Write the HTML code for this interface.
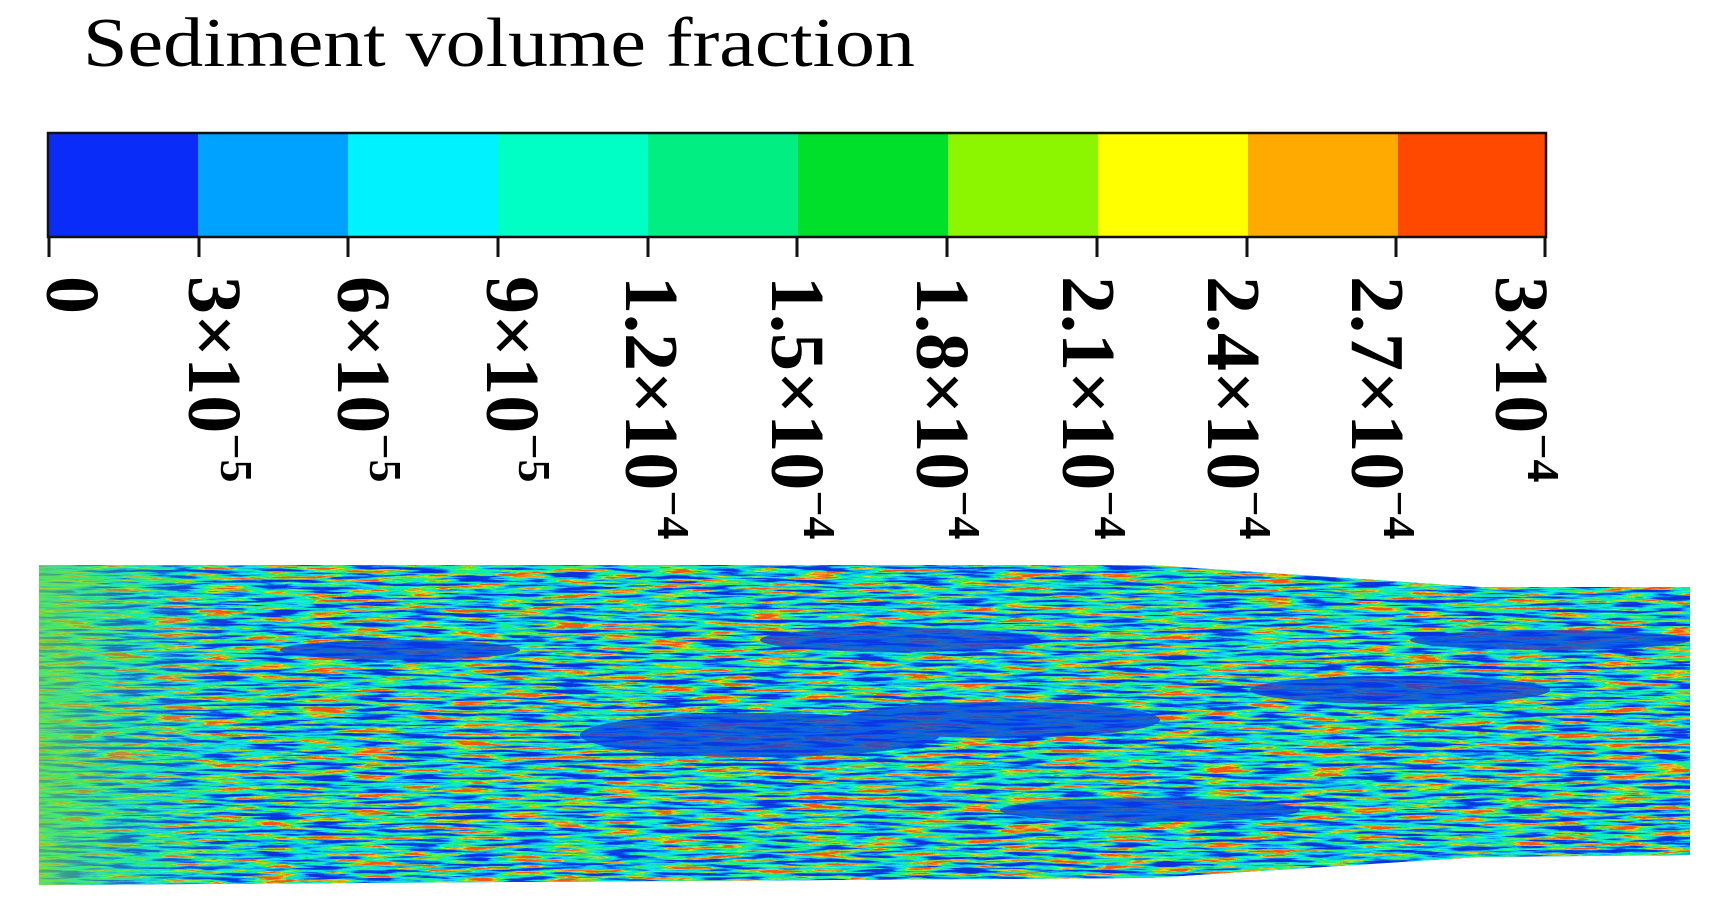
<!DOCTYPE html>
<html><head><meta charset="utf-8"><style>
html,body{margin:0;padding:0;background:#fff;}
svg{display:block;}
.t{font-family:"Liberation Serif","Times New Roman",serif;}
</style></head><body>
<svg width="1719" height="911" viewBox="0 0 1719 911" xmlns="http://www.w3.org/2000/svg">
<defs>
<filter id="noise" x="0" y="0" width="100%" height="100%" color-interpolation-filters="sRGB">
<feTurbulence type="fractalNoise" baseFrequency="0.02 0.3" numOctaves="3" seed="7" result="t"/>
<feColorMatrix in="t" type="matrix" values="1 0 0 0 0  1 0 0 0 0  1 0 0 0 0  0 0 0 0 1" result="g"/>
<feComponentTransfer in="g" result="s">
<feFuncR type="linear" slope="2.4" intercept="-0.7"/>
<feFuncG type="linear" slope="2.4" intercept="-0.7"/>
<feFuncB type="linear" slope="2.4" intercept="-0.7"/>
</feComponentTransfer>
<feComponentTransfer in="s">
<feFuncR type="discrete" tableValues="0.04 0.05 0.05 0.05 0.04 0.04 0.04 0.06 0.06 0.1 0.2 0.5 0.9 0.95 0.95"/>
<feFuncG type="discrete" tableValues="0.2 0.24 0.24 0.3 0.55 0.62 0.8 0.9 0.95 0.92 0.9 0.95 0.85 0.6 0.35"/>
<feFuncB type="discrete" tableValues="0.85 0.9 0.9 0.9 0.95 0.95 0.95 0.85 0.7 0.55 0.35 0.15 0.1 0.1 0.1"/>
<feFuncA type="discrete" tableValues="1 1"/>
</feComponentTransfer>
</filter>
<linearGradient id="lg" x1="0" x2="1" y1="0" y2="0">
<stop offset="0" stop-color="#70e040" stop-opacity="0.7"/>
<stop offset="0.05" stop-color="#40e080" stop-opacity="0.35"/>
<stop offset="0.12" stop-color="#40e0a0" stop-opacity="0"/>
</linearGradient>
<clipPath id="cp"><polygon points="39,565 1150,565 1480,587 1690,587 1690,855 1480,857 1150,878 39,885"/></clipPath>
</defs>

<text class="t" x="83" y="66" font-size="70" textLength="832" lengthAdjust="spacingAndGlyphs" fill="#000">Sediment volume fraction</text>

<g>
<rect x="48" y="133" width="150" height="104" fill="#0a2cf8"/>
<rect x="198" y="133" width="150" height="104" fill="#00a2ff"/>
<rect x="348" y="133" width="150" height="104" fill="#00f2ff"/>
<rect x="498" y="133" width="150" height="104" fill="#00ffc4"/>
<rect x="648" y="133" width="150" height="104" fill="#00ee82"/>
<rect x="798" y="133" width="150" height="104" fill="#00e02a"/>
<rect x="948" y="133" width="150" height="104" fill="#8cf500"/>
<rect x="1098" y="133" width="150" height="104" fill="#ffff00"/>
<rect x="1248" y="133" width="150" height="104" fill="#ffaa00"/>
<rect x="1398" y="133" width="148" height="104" fill="#ff4800"/>
<rect x="48" y="133" width="1498" height="104" fill="none" stroke="#111" stroke-width="2.5"/>
</g>
<g stroke="#111" stroke-width="3">
<line x1="49" y1="237" x2="49" y2="257"/>
<line x1="199" y1="237" x2="199" y2="257"/>
<line x1="348" y1="237" x2="348" y2="257"/>
<line x1="498" y1="237" x2="498" y2="257"/>
<line x1="648" y1="237" x2="648" y2="257"/>
<line x1="797" y1="237" x2="797" y2="257"/>
<line x1="947" y1="237" x2="947" y2="257"/>
<line x1="1097" y1="237" x2="1097" y2="257"/>
<line x1="1247" y1="237" x2="1247" y2="257"/>
<line x1="1396" y1="237" x2="1396" y2="257"/>
<line x1="1545" y1="237" x2="1545" y2="257"/>
</g>
<g class="t" font-weight="bold" font-size="76" fill="#000">
<text transform="translate(47,276) rotate(90)">0</text>
<text transform="translate(189,276) rotate(90)">3×10<tspan font-size="46" dy="-32">−5</tspan></text>
<text transform="translate(338,276) rotate(90)">6×10<tspan font-size="46" dy="-32">−5</tspan></text>
<text transform="translate(487,276) rotate(90)">9×10<tspan font-size="46" dy="-32">−5</tspan></text>
<text transform="translate(626,276) rotate(90)">1.2×10<tspan font-size="46" dy="-32">−4</tspan></text>
<text transform="translate(772,276) rotate(90)">1.5×10<tspan font-size="46" dy="-32">−4</tspan></text>
<text transform="translate(917,276) rotate(90)">1.8×10<tspan font-size="46" dy="-32">−4</tspan></text>
<text transform="translate(1063,276) rotate(90)">2.1×10<tspan font-size="46" dy="-32">−4</tspan></text>
<text transform="translate(1208,276) rotate(90)">2.4×10<tspan font-size="46" dy="-32">−4</tspan></text>
<text transform="translate(1352,276) rotate(90)">2.7×10<tspan font-size="46" dy="-32">−4</tspan></text>
<text transform="translate(1496,276) rotate(90)">3×10<tspan font-size="46" dy="-32">−4</tspan></text>
</g>

<g clip-path="url(#cp)">
<rect x="39" y="560" width="1655" height="330" fill="#1070f0"/>
<rect x="39" y="560" width="1655" height="330" filter="url(#noise)"/>
<g fill="#0a3ae6" opacity="0.75">
<ellipse cx="760" cy="735" rx="180" ry="22"/>
<ellipse cx="1000" cy="720" rx="160" ry="18"/>
<ellipse cx="1150" cy="810" rx="150" ry="12"/>
<ellipse cx="900" cy="640" rx="140" ry="12"/>
<ellipse cx="1400" cy="690" rx="150" ry="14"/>
<ellipse cx="1550" cy="640" rx="140" ry="10"/>
<ellipse cx="400" cy="650" rx="120" ry="10"/>
</g>
<rect x="39" y="560" width="1655" height="330" fill="url(#lg)"/>
</g>
</svg>
</body></html>
